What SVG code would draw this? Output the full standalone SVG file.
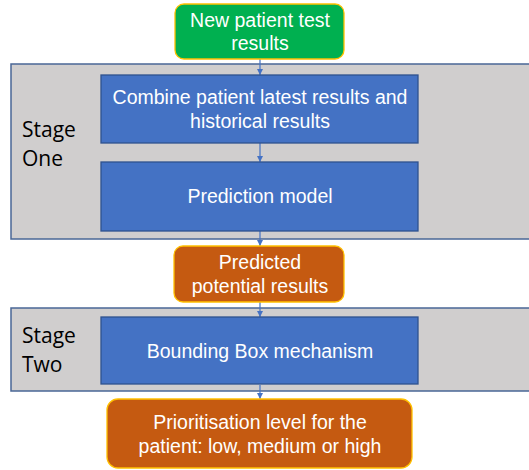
<svg xmlns="http://www.w3.org/2000/svg" width="529" height="470" viewBox="0 0 529 470">
  <style>
    .panel { fill: #d0cece; stroke: #4a6796; stroke-width: 1.5; }
    .proc { fill: #4472c4; stroke: #2f528f; stroke-width: 1.3; }
    .start { fill: #00b050; stroke: #ffc000; stroke-width: 1.3; }
    .out { fill: #c55a11; stroke: #ffc000; stroke-width: 1.3; }
    .label { font-family: "Liberation Sans", Arial, sans-serif; font-size: 19.5px; fill: #ffffff; text-anchor: middle; }
    .stage { font-family: "Open Sans", "Liberation Sans", sans-serif; font-size: 21px; fill: #000000; }
    .conn { stroke: #4472c4; stroke-width: 1.2; fill: none; marker-end: url(#arrow); }
  </style>
  <defs>
    <marker id="arrow" viewBox="0 0 10 10" refX="10" refY="5" markerWidth="6" markerHeight="6" markerUnits="userSpaceOnUse" orient="auto">
      <path d="M0,0 L10,5 L0,10 Z" fill="#4472c4"/>
    </marker>
  </defs>

  <g id="stage-one">
    <rect class="panel" x="11" y="64" width="530" height="175"/>
    <text class="stage" x="22" y="137">Stage</text>
    <text class="stage" x="22" y="166">One</text>
  </g>

  <g id="stage-two">
    <rect class="panel" x="11" y="308" width="530" height="83"/>
    <text class="stage" x="22" y="343">Stage</text>
    <text class="stage" x="22" y="372">Two</text>
  </g>

  <g id="connectors">
    <line class="conn" x1="260" y1="59" x2="260" y2="75"/>
    <line class="conn" x1="260" y1="143" x2="260" y2="162"/>
    <line class="conn" x1="260" y1="231" x2="260" y2="246"/>
    <line class="conn" x1="260" y1="302" x2="260" y2="317"/>
    <line class="conn" x1="260" y1="385" x2="260" y2="399"/>
  </g>

  <g id="new-results">
    <rect class="start" x="175" y="4" width="169" height="55" rx="9"/>
    <text class="label" x="260" y="27">New patient test</text>
    <text class="label" x="260" y="50">results</text>
  </g>

  <g id="combine">
    <rect class="proc" x="101" y="75" width="317" height="68"/>
    <text class="label" x="260" y="104">Combine patient latest results and</text>
    <text class="label" x="260" y="128">historical results</text>
  </g>

  <g id="prediction-model">
    <rect class="proc" x="101" y="162" width="317" height="69"/>
    <text class="label" x="260" y="203">Prediction model</text>
  </g>

  <g id="predicted-results">
    <rect class="out" x="174" y="246" width="170" height="56" rx="9"/>
    <text class="label" x="260" y="269">Predicted</text>
    <text class="label" x="260" y="293">potential results</text>
  </g>

  <g id="bounding-box">
    <rect class="proc" x="101" y="317" width="317" height="67"/>
    <text class="label" x="260" y="358">Bounding Box mechanism</text>
  </g>

  <g id="prioritisation">
    <rect class="out" x="107" y="399" width="305" height="69" rx="11"/>
    <text class="label" x="260" y="429">Prioritisation level for the</text>
    <text class="label" x="260" y="453">patient: low, medium or high</text>
  </g>
</svg>
